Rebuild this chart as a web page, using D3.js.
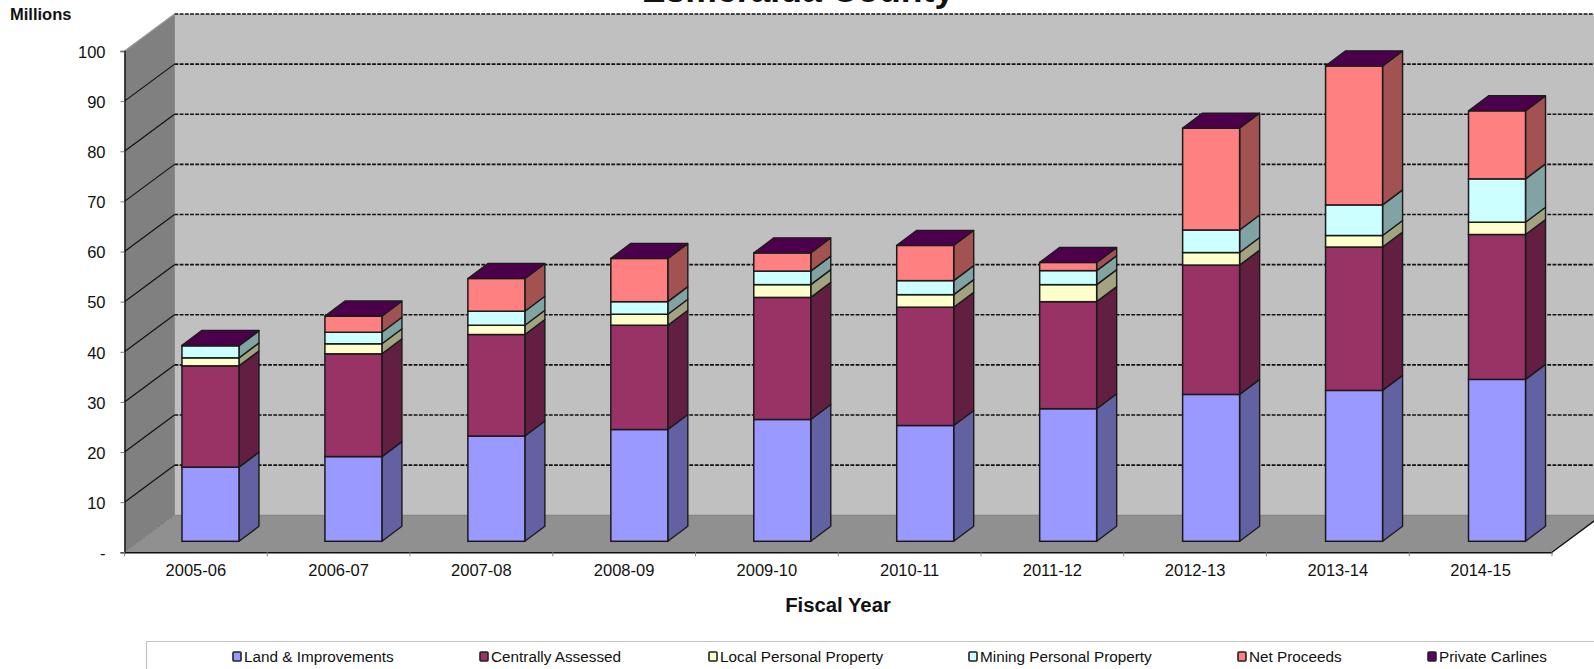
<!DOCTYPE html>
<html><head><meta charset="utf-8">
<script src="https://cdn.jsdelivr.net/npm/d3@7/dist/d3.min.js"></script>
<style>html,body{margin:0;padding:0;background:#fff;overflow:hidden}svg{display:block}text{font-family:"Liberation Sans",Arial,sans-serif;fill:#111}</style>
</head><body><svg id="c" width="1594" height="669"></svg>
<script>
const categories=["2005-06","2006-07","2007-08","2008-09","2009-10","2010-11","2011-12","2012-13","2013-14","2014-15"];
const seriesNames=["Land & Improvements","Centrally Assessed","Local Personal Property","Mining Personal Property","Net Proceeds","Private Carlines"];
const landImprovements=[14.8,16.9,21.0,22.3,24.3,23.1,26.45,29.3,30.1,32.3];
const centrallyAssessed=[20.2,20.5,20.25,20.8,24.35,23.6,21.35,25.8,28.6,28.9];
const localPersonal=[1.6,2.0,1.85,2.2,2.55,2.5,3.4,2.5,2.3,2.45];
const miningPersonal=[2.4,2.3,2.8,2.5,2.7,2.8,2.8,4.5,6.1,8.65];
const netProceeds=[0.05,3.2,6.5,8.6,3.6,7.0,1.6,20.3,27.7,13.55];
const privateCarlines=[0.05,0.05,0.05,0.05,0.05,0.05,0.05,0.05,0.05,0.05];
const tickValues=[0,10,20,30,40,50,60,70,80,90,100];
const frontColors=["#9999ff","#993366","#ffffcc","#ccffff","#ff8080","#660066"];
const sideColors=["#6262a3","#621f42","#a3a382","#82a3a3","#a35252","#420042"];
const topColor="#4c004c";

const svg=d3.select("#c");
const X0=124.5,X1=1552,DX=50,DY=37,Y0=552.3,Y100=51;
const barDX=20,barDY=15,barShiftX=14.5,barShiftY=11;
const x=d3.scaleBand().domain(categories).range([X0,X1]);
const xBars=d3.scaleBand().domain(categories).range([X0,X1+2]);
const y=d3.scaleLinear().domain([0,100]).range([Y0,Y100]);
const barW=57;
const poly=d3.line();
const font='"Liberation Sans",Arial,sans-serif';

// walls & floor
svg.append("path").attr("d",poly([[X0,Y100],[X0+DX,Y100-DY],[X0+DX,Y0-DY],[X0,Y0]])+"Z").attr("fill","#808080");
svg.append("rect").attr("x",X0+DX).attr("y",Y100-DY).attr("width",1594-X0-DX).attr("height",Y0-Y100).attr("fill","#c0c0c0");
svg.append("path").attr("d",poly([[X0,Y0],[X1,Y0],[X1+DX,Y0-DY],[X0+DX,Y0-DY]])+"Z").attr("fill","#909090");
svg.append("line").attr("x1",X0+DX).attr("x2",X0+DX).attr("y1",Y100-DY).attr("y2",Y0-DY).attr("stroke","#8a8a8a").attr("stroke-width",1);
svg.append("line").attr("x1",X0+DX).attr("x2",1594).attr("y1",Y0-DY).attr("y2",Y0-DY).attr("stroke","#7d7d7d").attr("stroke-width",1);
svg.append("line").attr("x1",X1).attr("x2",X1+DX).attr("y1",Y0).attr("y2",Y0-DY).attr("stroke","#111").attr("stroke-width",1.4);

// gridlines
const gridVals=tickValues.filter(v=>v>0);
svg.append("g").selectAll("line").data(gridVals).join("line")
 .attr("x1",X0+DX).attr("x2",1594).attr("y1",d=>y(d)-DY).attr("y2",d=>y(d)-DY)
 .attr("stroke","#111").attr("stroke-width",1.6).attr("stroke-dasharray","3.8 1.4");
svg.append("g").selectAll("line").data(gridVals).join("line")
 .attr("x1",X0).attr("x2",X0+DX).attr("y1",d=>y(d)).attr("y2",d=>y(d)-DY)
 .attr("stroke",d=>d===100?"#9a9a9a":"#111").attr("stroke-width",1.2);
svg.append("line").attr("x1",X0).attr("x2",X0+DX).attr("y1",Y0).attr("y2",Y0-DY).attr("stroke","#6a6a6a").attr("stroke-width",.8).attr("stroke-dasharray","2 1");

// stacked bars
const table=categories.map((c,i)=>({c,0:landImprovements[i],1:centrallyAssessed[i],2:localPersonal[i],3:miningPersonal[i],4:netProceeds[i],5:privateCarlines[i]}));
const stack=d3.stack().keys([0,1,2,3,4,5])(table);
const stroke="#1a1a1a";
const barsG=svg.append("g");
categories.forEach((c,i)=>{
  const g=barsG.append("g");
  const bx=xBars(c)+xBars.bandwidth()/2+barShiftX-barW/2;
  const yb=v=>y(v)-barShiftY;
  stack.forEach((s,k)=>{
    const [a,b]=s[i];
    if(k===5)return;
    g.append("path").attr("d",poly([[bx+barW,yb(a)],[bx+barW+barDX,yb(a)-barDY],[bx+barW+barDX,yb(b)-barDY],[bx+barW,yb(b)]])+"Z")
     .attr("fill",sideColors[k]).attr("stroke",stroke).attr("stroke-width",1.4).attr("stroke-linejoin","round");
    g.append("rect").attr("x",bx).attr("y",yb(b)).attr("width",barW).attr("height",yb(a)-yb(b))
     .attr("fill",frontColors[k]).attr("stroke",stroke).attr("stroke-width",1.5);
  });
  const t=yb(stack[5][i][1]);
  g.append("path").attr("d",poly([[bx,t],[bx+barDX,t-barDY],[bx+barW+barDX,t-barDY],[bx+barW,t]])+"Z")
   .attr("fill",topColor).attr("stroke",stroke).attr("stroke-width",1.2).attr("stroke-linejoin","round");
});

// axes
const ya=svg.append("g").attr("transform",`translate(${X0},0)`)
 .call(d3.axisLeft(y).tickValues(tickValues).tickFormat(d=>d===0?"-":d).tickSize(4).tickPadding(15));
ya.select(".domain").attr("stroke","#111").attr("stroke-width",1.4);
ya.selectAll(".tick line").attr("stroke","#777");
ya.selectAll("text").style("font-size","16.5px").style("font-family",font).attr("fill","#111").attr("y",1);
const xa=svg.append("g").attr("transform",`translate(0,${Y0})`)
 .call(d3.axisBottom(x).tickSize(0).tickPadding(12));
xa.select(".domain").attr("stroke","#111").attr("stroke-width",1.6);
xa.selectAll("text").style("font-size","16.5px").style("font-family",font).attr("fill","#111");
svg.append("g").selectAll("line").data(categories.map(c=>x(c)).concat([X1])).join("line")
 .attr("x1",d=>d).attr("x2",d=>d).attr("y1",Y0).attr("y2",Y0+4).attr("stroke","#888");

// titles
svg.append("text").attr("x",798).attr("y",2).attr("text-anchor","middle").style("font-size","35.6px").style("font-weight","bold").text("Esmeralda County");
svg.append("text").attr("x",10).attr("y",20).style("font-size","16.5px").style("font-weight","bold").text("Millions");
svg.append("text").attr("x",838).attr("y",612).attr("text-anchor","middle").style("font-size","20.3px").style("font-weight","bold").text("Fiscal Year");

// legend
const legendX=[233,480,709,969,1238,1428];
svg.append("path").attr("d","M146.5,669V641.5H1594").attr("fill","none").attr("stroke","#c4c4c4").attr("stroke-width",1.2);
const lg=svg.append("g").selectAll("g").data(seriesNames).join("g").attr("transform",(d,i)=>`translate(${legendX[i]},0)`);
lg.append("rect").attr("y",652).attr("width",8).attr("height",9).attr("rx",1).attr("fill",(d,i)=>frontColors[i]).attr("stroke","#222").attr("stroke-width",1.6);
lg.append("text").attr("x",11).attr("y",662).style("font-size","15.3px").text(d=>d);
</script></body></html>
